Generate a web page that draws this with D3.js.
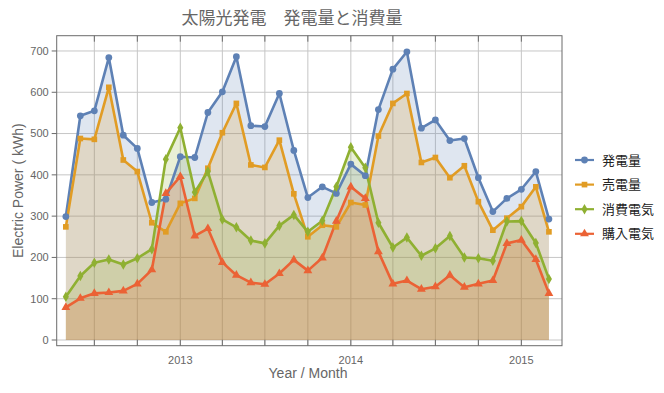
<!DOCTYPE html>
<html><head><meta charset="utf-8">
<script src="https://cdn.jsdelivr.net/npm/d3@7"></script>
<style>
html,body{margin:0;padding:0;background:#fff;}
svg{display:block;}
</style>
</head><body>
<svg id="chart" width="664" height="393"></svg>
<script>
// ---- data ----
const months = ["2012-05","2012-06","2012-07","2012-08","2012-09","2012-10","2012-11","2012-12",
  "2013-01","2013-02","2013-03","2013-04","2013-05","2013-06","2013-07","2013-08","2013-09","2013-10","2013-11","2013-12",
  "2014-01","2014-02","2014-03","2014-04","2014-05","2014-06","2014-07","2014-08","2014-09","2014-10","2014-11","2014-12",
  "2015-01","2015-02","2015-03"];
const generation = [299,543,555,684,496,464,333,341,444,442,551,601,686,519,517,597,459,345,371,355,426,398,558,656,698,513,533,483,488,393,311,343,365,408,293];
const sold       = [274,488,486,612,436,408,284,262,331,343,416,502,573,424,418,484,354,250,278,274,333,327,494,573,597,430,442,393,422,335,266,295,323,371,262];
const consumed   = [105,155,187,195,183,198,220,438,514,358,408,292,273,241,234,277,303,262,289,371,467,417,284,224,248,204,222,252,200,198,192,287,288,235,148];
const purchased  = [79,101,113,115,119,136,170,355,396,252,270,188,157,139,135,161,194,168,199,288,371,343,214,136,144,123,129,157,128,136,144,234,242,195,113];
const seriesNames = ["発電量","売電量","消費電気","購入電気"];
const yTicks = [0,100,200,300,400,500,600,700];
const xGridDates = ["2012-07","2012-10","2013-01","2013-04","2013-07","2013-10","2014-01","2014-04","2014-07","2014-10","2015-01"];
const xLabelDates = ["2013-01","2014-01","2015-01"];
const xLabels = ["2013","2014","2015"];
const titleText = "太陽光発電　発電量と消費量";
const xTitle = "Year / Month";
const yTitle = "Electric Power ( kWh)";

// ---- styles ----
const colors = ["#5e81b5","#e19c24","#8fb032","#eb6235"];
const markers = ["circle","square","diamond","triangle"];
const L = 56.7, R = 562, T = 35.7, B = 345.7;
const parse = s => { const [y,m] = s.split("-").map(Number); return new Date(Date.UTC(y, m-1, 1)); };
const dates = months.map(parse);
const allSeries = [generation, sold, consumed, purchased];

const svg = d3.select("#chart");
const x = d3.scaleUtc().domain([new Date(Date.UTC(2012,3,11,10)), new Date(Date.UTC(2015,2,29))]).range([L, R]);
const y = d3.scaleLinear().domain([-13.8, 737]).range([B, T]);

const latin = "'Liberation Sans', Arial, sans-serif";
const cjk = "'Noto Sans CJK JP', sans-serif";

// grid
const g = svg.append("g");
g.selectAll("line.hg").data(yTicks).join("line")
  .attr("x1", L).attr("x2", R).attr("y1", d => y(d)).attr("y2", d => y(d))
  .attr("stroke", "#c6c6c6").attr("stroke-width", 1);
g.selectAll("line.vg").data(xGridDates.map(parse)).join("line")
  .attr("x1", d => x(d)).attr("x2", d => x(d)).attr("y1", T).attr("y2", B)
  .attr("stroke", "#c6c6c6").attr("stroke-width", 1);

// areas
const area = d3.area().x((d,i) => x(dates[i])).y0(y(0)).y1(d => y(d));
allSeries.forEach((s, k) => {
  svg.append("path").datum(s).attr("d", area)
    .attr("fill", colors[k]).attr("fill-opacity", 0.2).attr("stroke", "none");
});

// lines
const line = d3.line().x((d,i) => x(dates[i])).y(d => y(d));
const symType = {circle: d3.symbolCircle, square: d3.symbolSquare, diamond: d3.symbolDiamond, triangle: d3.symbolTriangle};
const symSize = {circle: 36, square: 32, diamond: 32, triangle: 34};
allSeries.forEach((s, k) => {
  svg.append("path").datum(s).attr("d", line)
    .attr("fill", "none").attr("stroke", colors[k]).attr("stroke-width", 2.6)
    .attr("stroke-linejoin", "round");
});
allSeries.forEach((s, k) => {
  const sym = d3.symbol().type(symType[markers[k]]).size(symSize[markers[k]]);
  svg.append("g").selectAll("path").data(s).join("path")
    .attr("d", sym)
    .attr("transform", (d,i) => `translate(${x(dates[i])},${y(d)})`)
    .attr("fill", colors[k]);
});

// frame
svg.append("rect").attr("x", L).attr("y", T).attr("width", R-L).attr("height", B-T)
  .attr("fill", "none").attr("stroke", "#6b6b6b").attr("stroke-width", 1);
// ticks
svg.append("g").selectAll("line").data(yTicks).join("line")
  .attr("x1", L-5).attr("x2", L).attr("y1", d => y(d)).attr("y2", d => y(d))
  .attr("stroke", "#6b6b6b");
svg.append("g").selectAll("line").data(xGridDates.map(parse)).join("line")
  .attr("x1", d => x(d)).attr("x2", d => x(d)).attr("y1", B).attr("y2", B-6)
  .attr("stroke", "#6b6b6b");
svg.append("g").selectAll("line").data(xGridDates.map(parse)).join("line")
  .attr("x1", d => x(d)).attr("x2", d => x(d)).attr("y1", T).attr("y2", T+6)
  .attr("stroke", "#6b6b6b");

// tick labels
svg.append("g").selectAll("text").data(yTicks).join("text")
  .attr("x", L-8).attr("y", d => y(d)).attr("dy", "0.35em")
  .attr("text-anchor", "end").attr("font-family", latin).attr("font-size", 11)
  .attr("fill", "#666").text(d => d);
svg.append("g").selectAll("text").data(xLabelDates.map(parse)).join("text")
  .attr("x", d => x(d)).attr("y", B + 14).attr("dy", "0.35em")
  .attr("text-anchor", "middle").attr("font-family", latin).attr("font-size", 11)
  .attr("fill", "#666").text((d,i) => xLabels[i]);

// axis titles
svg.append("text").attr("x", 308).attr("y", 373).attr("dy", "0.35em")
  .attr("text-anchor", "middle").attr("font-family", latin).attr("font-size", 14)
  .attr("fill", "#666").text(xTitle);
svg.append("text").attr("transform", `translate(18,${(T+B)/2}) rotate(-90)`).attr("dy", "0.35em")
  .attr("text-anchor", "middle").attr("font-family", latin).attr("font-size", 14)
  .attr("fill", "#666").text(yTitle);

// title
svg.append("text").attr("x", 292).attr("y", 18).attr("dy", "0.35em")
  .attr("text-anchor", "middle").attr("font-family", cjk).attr("font-size", 17)
  .attr("fill", "#666").text(titleText);

// legend
const leg = svg.append("g");
seriesNames.forEach((n, k) => {
  const cy = 160 + k * 24.6;
  leg.append("line").attr("x1", 575).attr("x2", 594).attr("y1", cy).attr("y2", cy)
    .attr("stroke", colors[k]).attr("stroke-width", 2.2);
  leg.append("path").attr("d", d3.symbol().type(symType[markers[k]]).size(symSize[markers[k]]))
    .attr("transform", `translate(584.5,${cy})`).attr("fill", colors[k]);
  leg.append("text").attr("x", 602).attr("y", cy).attr("dy", "0.35em")
    .attr("font-family", cjk).attr("font-size", 13).attr("fill", "#222").text(n);
});
</script>
</body></html>
